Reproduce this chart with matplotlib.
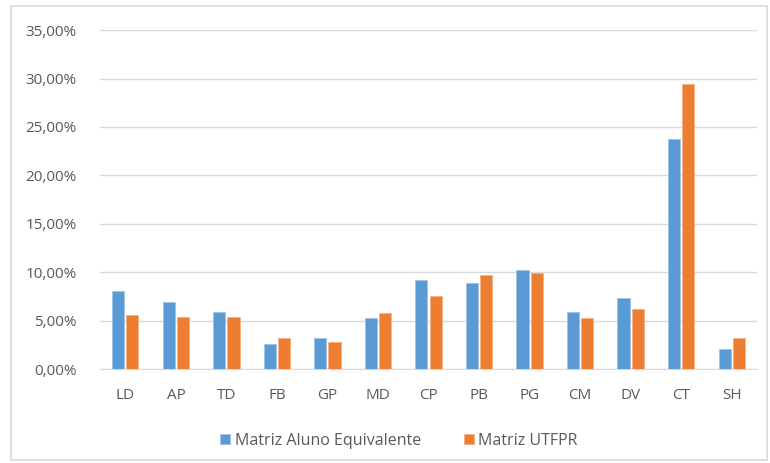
import matplotlib
matplotlib.use("Agg")
import matplotlib.pyplot as plt
from matplotlib.patches import Rectangle
from matplotlib.ticker import FuncFormatter
import numpy as np

categories = ["LD", "AP", "TD", "FB", "GP", "MD", "CP", "PB", "PG", "CM", "DV", "CT", "SH"]
aluno_equiv = [8.06, 6.89, 5.89, 2.58, 3.24, 5.23, 9.19, 8.88, 10.19, 5.89, 7.37, 23.76, 2.10]
utfpr = [5.55, 5.41, 5.41, 3.24, 2.75, 5.75, 7.54, 9.71, 9.92, 5.23, 6.23, 29.41, 3.24]
series_names = ["Matriz Aluno Equivalente", "Matriz UTFPR"]
yticks = [0, 5, 10, 15, 20, 25, 30, 35]

plt.rcParams['font.family'] = ['Open Sans', 'DejaVu Sans']
txt = "#595959"

fig = plt.figure(figsize=(7.7, 4.63), dpi=100)
fig.patches.append(Rectangle((0.014, 0.006), 0.982, 0.98, transform=fig.transFigure,
                             fill=False, edgecolor="#D9D9D9", linewidth=1.2))
ax = fig.add_axes([0.13, 0.203, 0.853, 0.732])

x = np.arange(len(categories))
w = 0.24
off = 0.14
ax.bar(x - off, aluno_equiv, w, color="#5B9BD5", edgecolor="#9DC3E6", linewidth=0.6,
       label=series_names[0], zorder=3)
ax.bar(x + off, utfpr, w, color="#ED7D31", edgecolor="#F4B183", linewidth=0.6,
       label=series_names[1], zorder=3)

ax.set_xlim(-0.5, len(categories) - 0.5)
ax.set_ylim(0, 35)
ax.set_yticks(yticks)
ax.yaxis.set_major_formatter(FuncFormatter(lambda v, p: f"{v:.2f}%".replace(".", ",")))
ax.set_xticks(x)
ax.set_xticklabels(categories)
ax.grid(axis="y", color="#D9D9D9", linewidth=1.0, zorder=0)
for s in ["top", "right", "left"]:
    ax.spines[s].set_visible(False)
ax.spines["bottom"].set_color("#D9D9D9")
ax.tick_params(axis="both", length=0, colors=txt, labelsize=11)
ax.tick_params(axis="y", pad=17)
ax.tick_params(axis="x", pad=14)

leg = ax.legend(loc="upper center", bbox_to_anchor=(0.455, -0.145), ncol=2, frameon=False,
                handlelength=0.6, handleheight=0.6, handletextpad=0.3, columnspacing=2.7,
                fontsize=11.5)
for t in leg.get_texts():
    t.set_color(txt)

fig.savefig("out.png", dpi=100)
